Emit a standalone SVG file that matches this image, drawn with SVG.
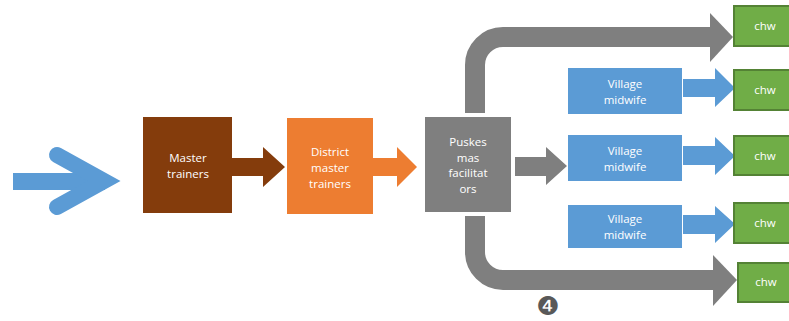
<svg xmlns="http://www.w3.org/2000/svg" width="789" height="321" viewBox="0 0 789 321">
<style>
.t{font-family:"Open Sans","Liberation Sans",sans-serif;font-size:11.5px;fill:#fff;text-anchor:middle}
.blue{fill:#5B9BD5}
.gray{fill:#7F7F7F}
.chw{fill:#70AD47;stroke:#548235;stroke-width:2}
</style>
<rect width="789" height="321" fill="#fff"/>
<g id="connectors">
  <g id="input-arrow">
    <rect x="13" y="173" width="92" height="17" class="blue"/>
    <polyline points="57,155 104,181 57,207" fill="none" stroke="#5B9BD5" stroke-width="16" stroke-linecap="round" stroke-linejoin="miter" stroke-miterlimit="10"/>
  </g>
  <polygon points="232,158 263,158 263,147 285,167 263,187 263,176 232,176" fill="#843C0C"/>
  <polygon points="373,158 397,158 397,147 417,167 397,187 397,176 373,176" fill="#ED7D31"/>
  <polygon points="515,157 546,157 546,147 567,166 546,185 546,176 515,176" class="gray"/>
  <path d="M475,113 V65 A28,28 0 0 1 503,37 H712" fill="none" stroke="#7F7F7F" stroke-width="20"/>
  <polygon points="710,13 733,37 710,62" class="gray"/>
  <path d="M475,216 V252 A28,28 0 0 0 503,280 H715" fill="none" stroke="#7F7F7F" stroke-width="20"/>
  <polygon points="713,255 737,280 713,306" class="gray"/>
  <polygon points="683,79 715,79 715,68 735,88 715,107 715,97 683,97" class="blue"/>
  <polygon points="683,146 715,146 715,137 735,156 715,175 715,165 683,165" class="blue"/>
  <polygon points="683,215 715,215 715,206 735,224 715,243 715,234 683,234" class="blue"/>
</g>
<g id="master-trainers">
  <rect x="143" y="117" width="89" height="96" fill="#843C0C"/>
  <text class="t" x="188" y="162">Master</text>
  <text class="t" x="188" y="178">trainers</text>
</g>
<g id="district-master-trainers">
  <rect x="287" y="118" width="86" height="96" fill="#ED7D31"/>
  <text class="t" x="330" y="156">District</text>
  <text class="t" x="330" y="172">master</text>
  <text class="t" x="330" y="188">trainers</text>
</g>
<g id="puskesmas">
  <rect x="425" y="117" width="86" height="95" class="gray"/>
  <text class="t" x="468" y="146">Puskes</text>
  <text class="t" x="468" y="162">mas</text>
  <text class="t" x="468" y="177">facilitat</text>
  <text class="t" x="468" y="193">ors</text>
</g>
<g id="midwife1">
  <rect x="568" y="68" width="114" height="46" class="blue"/>
  <text class="t" x="625" y="88">Village</text>
  <text class="t" x="625" y="104">midwife</text>
</g>
<g id="midwife2">
  <rect x="568" y="135" width="114" height="46" class="blue"/>
  <text class="t" x="625" y="155">Village</text>
  <text class="t" x="625" y="171">midwife</text>
</g>
<g id="midwife3">
  <rect x="568" y="205" width="114" height="43" class="blue"/>
  <text class="t" x="625" y="223">Village</text>
  <text class="t" x="625" y="239">midwife</text>
</g>
<g id="chw1">
  <rect x="734" y="6" width="56" height="40" class="chw"/>
  <text class="t" x="765" y="30">chw</text>
</g>
<g id="chw2">
  <rect x="734" y="70" width="56" height="40" class="chw"/>
  <text class="t" x="765" y="94">chw</text>
</g>
<g id="chw3">
  <rect x="734" y="136" width="56" height="39" class="chw"/>
  <text class="t" x="765" y="160">chw</text>
</g>
<g id="chw4">
  <rect x="734" y="203" width="56" height="40" class="chw"/>
  <text class="t" x="765" y="227">chw</text>
</g>
<g id="chw5">
  <rect x="738" y="263" width="52" height="39" class="chw"/>
  <text class="t" x="766" y="286">chw</text>
</g>
<g id="label4">
  <text x="548" y="315" font-family="DejaVu Sans,sans-serif" font-size="26" fill="#595959" text-anchor="middle">❹</text>
</g>
</svg>
